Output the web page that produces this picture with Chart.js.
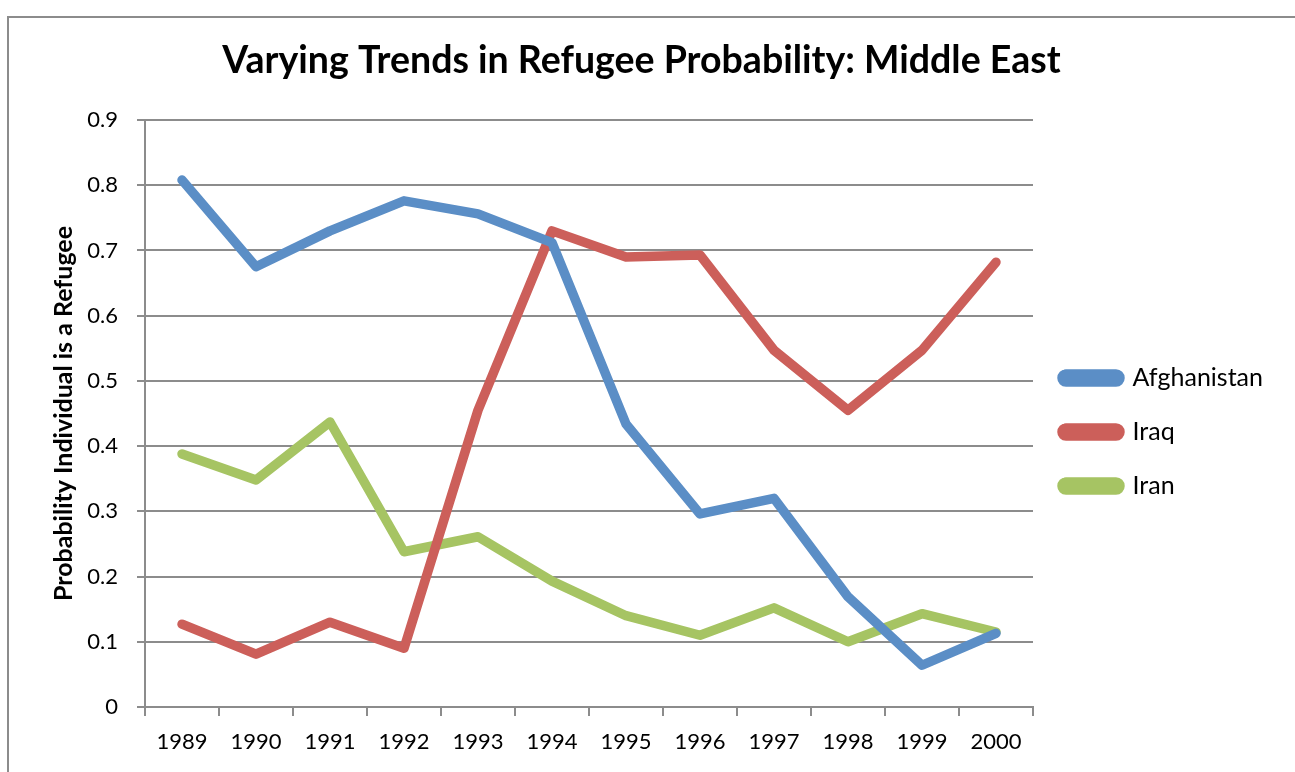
<!DOCTYPE html>
<html>
<head>
<meta charset="utf-8">
<script src="https://cdn.jsdelivr.net/npm/chart.js@4"></script>
<style>
  html, body { margin: 0; padding: 0; background: #fff; }
  #frame { position: absolute; left: 7px; top: 16px; width: 1300px; height: 760px;
           border-left: 2px solid #8c8c8c; border-top: 2px solid #8c8c8c; }
  #wrap { position: absolute; left: 0; top: 0; width: 1295px; height: 772px; }
</style>
</head>
<body>
<div id="frame"></div>
<div id="wrap"><canvas id="chart" width="1295" height="772"></canvas></div>
<script>
const years = ['1989', '1990', '1991', '1992', '1993', '1994', '1995', '1996', '1997', '1998', '1999', '2000'];
const afghanistan = [0.808, 0.675, 0.730, 0.776, 0.756, 0.712, 0.434, 0.296, 0.320, 0.169, 0.064, 0.113];
const iraq = [0.127, 0.081, 0.130, 0.090, 0.455, 0.730, 0.690, 0.693, 0.547, 0.455, 0.547, 0.682];
const iran = [0.388, 0.348, 0.437, 0.238, 0.261, 0.193, 0.140, 0.110, 0.152, 0.100, 0.143, 0.115];

const font = 'Lato, "Open Sans", sans-serif';
const gridGray = '#8c8c8c';

function series(label, data, color) {
    return {
        label: label, data: data, borderColor: color, backgroundColor: color,
        borderWidth: 9.5, pointRadius: 0, tension: 0,
        borderJoinStyle: 'round', borderCapStyle: 'round'
    };
}

new Chart(document.getElementById('chart'), {
    type: 'line',
    data: {
        labels: years,
        datasets: [
            series('Afghanistan', afghanistan, '#5B8EC6'),
            series('Iraq', iraq, '#CC5F5A'),
            series('Iran', iran, '#A6C463')
        ]
    },
    options: {
        responsive: false,
        animation: false,
        layout: { padding: { left: 10, right: 22, top: 0, bottom: 0 } },
        plugins: {
            title: {
                display: true,
                text: 'Varying Trends in Refugee Probability: Middle East',
                color: '#000',
                font: { family: font, size: 37.5, weight: 'bold' },
                padding: { top: 38, bottom: 37 }
            },
            legend: {
                position: 'right',
                title: { display: true, text: ' ', font: { size: 10 }, padding: { top: 40, bottom: 40 } },
                labels: {
                    color: '#000',
                    font: { family: font, size: 25 },
                    boxWidth: 58, boxHeight: 8,
                    useBorderRadius: true, borderRadius: 4,
                    padding: 29
                }
            },
            tooltip: { enabled: false }
        },
        scales: {
            x: {
                offset: true,
                grid: { offset: true, drawOnChartArea: false, color: gridGray, lineWidth: 2, tickLength: 9 },
                border: { color: gridGray, width: 2 },
                ticks: { color: '#000', font: { family: font, size: 22 }, padding: 13, maxRotation: 0 },
                afterFit: function (scale) { scale.height = 65; }
            },
            y: {
                min: 0, max: 0.9,
                ticks: { stepSize: 0.1, color: '#000', font: { family: font, size: 22 }, padding: 19,
                         callback: function (v) { return Math.round(v * 10) / 10; } },
                grid: { color: gridGray, lineWidth: 2, tickLength: 8 },
                border: { color: gridGray, width: 2 },
                title: {
                    display: true, text: 'Probability Individual is a Refugee', color: '#000',
                    font: { family: font, size: 25, weight: 'bold' }, padding: { top: 39, bottom: 0 }
                },
                afterFit: function (scale) { scale.width = 135; }
            }
        }
    }
});
</script>
</body>
</html>
